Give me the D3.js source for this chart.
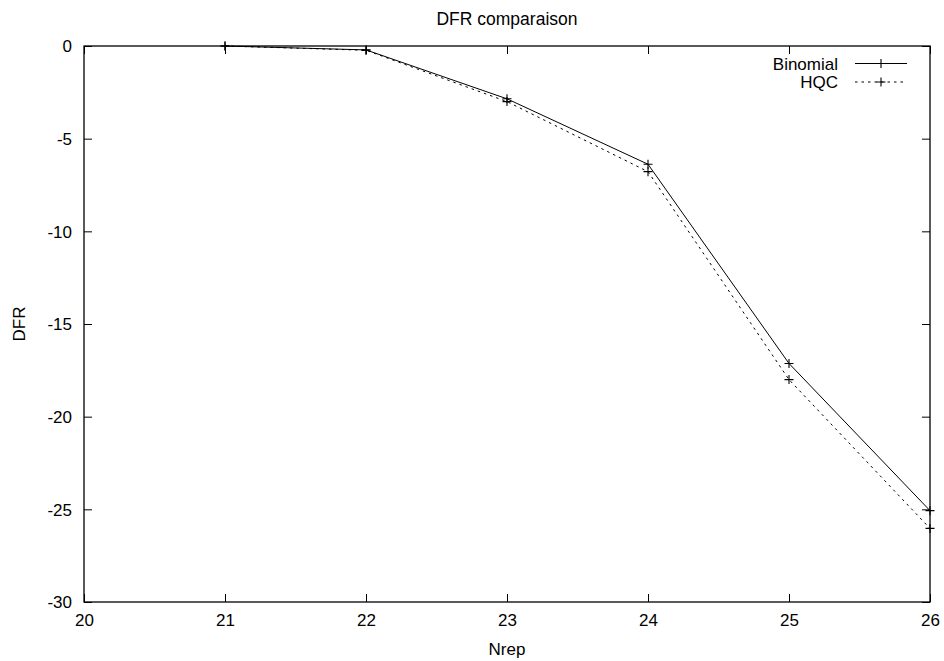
<!DOCTYPE html>
<html><head><meta charset="utf-8">
<script src="https://cdn.jsdelivr.net/npm/d3@7"></script>
<style>body{margin:0;background:#fff}svg{display:block}text{font-family:"Liberation Sans",Arial,sans-serif;fill:#000}</style>
</head><body>
<svg id="c" width="944" height="661"></svg>
<script>
const nrep = [21, 22, 23, 24, 25, 26];
const binomial = [0, -0.21, -2.85, -6.38, -17.13, -25.07];
const hqc = [0, -0.23, -3.0, -6.78, -18.0, -26.03];
const xTicks = [20, 21, 22, 23, 24, 25, 26];
const yTicks = [0, -5, -10, -15, -20, -25, -30];
const seriesNames = ["Binomial", "HQC"];

const svg = d3.select("#c");
const L = 84, R = 930, T = 46, B = 602;
const x = d3.scaleLinear().domain([20, 26]).range([L, R]);
const y = d3.scaleLinear().domain([-30, 0]).range([B, T]);
const fs = 17;
const fmt = d => String(d);

// title
svg.append("text").attr("x", (L + R) / 2).attr("y", 25).attr("text-anchor", "middle")
  .style("font-size", "17.5px").text("DFR comparaison");

// axes with inward ticks
const tl = 8;
svg.append("g").attr("transform", `translate(0,${B})`)
  .call(d3.axisBottom(x).tickValues(xTicks).tickSize(-tl).tickFormat(fmt))
  .call(g => {
    g.select(".domain").remove();
    g.selectAll("text").style("font-size", fs + "px").attr("y", 24).attr("dy", null);
  });
svg.append("g").attr("transform", `translate(0,${T})`)
  .call(d3.axisTop(x).tickValues(xTicks).tickSize(-tl).tickFormat(""))
  .call(g => g.select(".domain").remove());
svg.append("g").attr("transform", `translate(${L},0)`)
  .call(d3.axisLeft(y).tickValues(yTicks).tickSize(-tl).tickFormat(fmt))
  .call(g => {
    g.select(".domain").remove();
    g.selectAll("text").style("font-size", fs + "px").attr("x", -12).attr("dy", "0.35em");
  });
svg.append("g").attr("transform", `translate(${R},0)`)
  .call(d3.axisRight(y).tickValues(yTicks).tickSize(-tl).tickFormat(""))
  .call(g => g.select(".domain").remove());
svg.selectAll(".tick line").attr("stroke", "#000");

// border
svg.append("rect").attr("x", L).attr("y", T).attr("width", R - L).attr("height", B - T)
  .attr("fill", "none").attr("stroke", "#000").attr("stroke-width", 1.3);

// axis labels
svg.append("text").attr("x", (L + R) / 2).attr("y", 655).attr("text-anchor", "middle")
  .style("font-size", fs + "px").text("Nrep");
svg.append("text").attr("transform", `translate(25,${(T + B) / 2}) rotate(-90)`)
  .attr("text-anchor", "middle").style("font-size", fs + "px").text("DFR");

const line = d3.line().x((d, i) => x(nrep[i])).y(d => y(d));
const series = [
  { name: seriesNames[0], vals: binomial, dash: null },
  { name: seriesNames[1], vals: hqc, dash: "2.5,4" }
];
const plus = (g, cx, cy) => {
  g.append("path").attr("d", `M${cx - 4.5},${cy}H${cx + 4.5}M${cx},${cy - 4.5}V${cy + 4.5}`)
    .attr("stroke", "#000").attr("stroke-width", 1.1).attr("fill", "none");
};
series.forEach((s, k) => {
  const g = svg.append("g");
  g.append("path").datum(s.vals).attr("d", line).attr("fill", "none").attr("stroke", "#000")
    .attr("stroke-width", 1).attr("stroke-dasharray", s.dash);
  s.vals.forEach((v, i) => plus(g, x(nrep[i]), y(v)));
  // legend
  const ly = 63.5 + k * 18.5;
  svg.append("text").attr("x", 838).attr("y", ly + 6).attr("text-anchor", "end")
    .style("font-size", fs + "px").text(s.name);
  svg.append("line").attr("x1", 855).attr("x2", 907).attr("y1", ly).attr("y2", ly)
    .attr("stroke", "#000").attr("stroke-width", 1).attr("stroke-dasharray", s.dash);
  plus(svg, 881, ly);
});
</script>
</body></html>
